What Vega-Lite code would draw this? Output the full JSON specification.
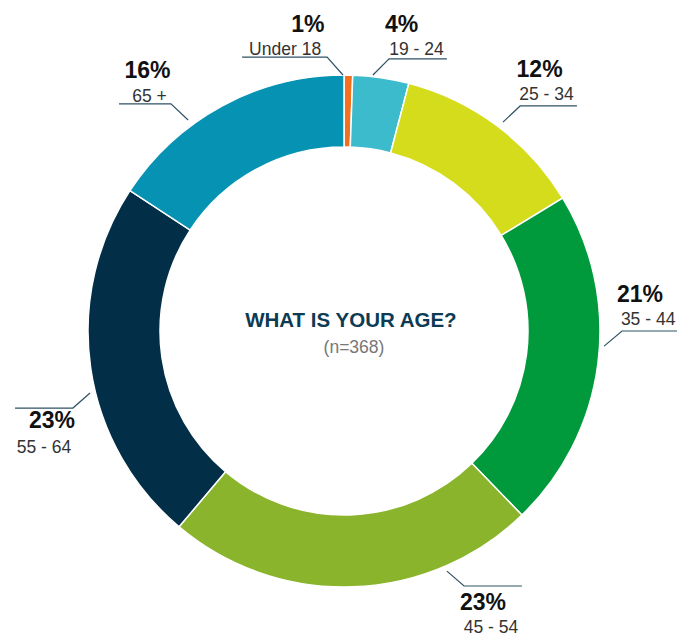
{
  "$schema": "https://vega.github.io/schema/vega-lite/v6.json",
  "width": 666,
  "height": 612,
  "autosize": {"type": "none"},
  "padding": {"left": 11, "top": 25, "right": 0, "bottom": 0},
  "background": "white",
  "config": {"view": {"stroke": null}},
  "datasets": {
    "ages": [
      {"o": 1, "seg": "Under 18", "n": 2},
      {"o": 2, "seg": "19 - 24", "n": 13},
      {"o": 3, "seg": "25 - 34", "n": 45},
      {"o": 4, "seg": "35 - 44", "n": 79},
      {"o": 5, "seg": "45 - 54", "n": 86},
      {"o": 6, "seg": "55 - 64", "n": 85},
      {"o": 7, "seg": "65 +", "n": 58}
    ],
    "leaders": [
      {"seg": "Under 18", "i": 1, "x": -0.004, "y": 1.0},
      {"seg": "Under 18", "i": 2, "x": -0.066, "y": 1.07},
      {"seg": "Under 18", "i": 3, "x": -0.398, "y": 1.07},
      {"seg": "19 - 24", "i": 1, "x": 0.113, "y": 1.0},
      {"seg": "19 - 24", "i": 2, "x": 0.176, "y": 1.063},
      {"seg": "19 - 24", "i": 3, "x": 0.402, "y": 1.063},
      {"seg": "25 - 34", "i": 1, "x": 0.621, "y": 0.816},
      {"seg": "25 - 34", "i": 2, "x": 0.688, "y": 0.879},
      {"seg": "25 - 34", "i": 3, "x": 0.91, "y": 0.879},
      {"seg": "35 - 44", "i": 1, "x": 1.016, "y": -0.059},
      {"seg": "35 - 44", "i": 2, "x": 1.086, "y": 0.0},
      {"seg": "35 - 44", "i": 3, "x": 1.301, "y": 0.0},
      {"seg": "45 - 54", "i": 1, "x": 0.402, "y": -0.938},
      {"seg": "45 - 54", "i": 2, "x": 0.469, "y": -0.996},
      {"seg": "45 - 54", "i": 3, "x": 0.695, "y": -0.996},
      {"seg": "55 - 64", "i": 1, "x": -0.992, "y": -0.242},
      {"seg": "55 - 64", "i": 2, "x": -1.059, "y": -0.301},
      {"seg": "55 - 64", "i": 3, "x": -1.285, "y": -0.301},
      {"seg": "65 +", "i": 1, "x": -0.609, "y": 0.824},
      {"seg": "65 +", "i": 2, "x": -0.676, "y": 0.887},
      {"seg": "65 +", "i": 3, "x": -0.879, "y": 0.887}
    ],
    "labels": [
      {"seg": "Under 18", "pct": "1%", "px": -0.141, "py": 1.168, "cx": -0.23, "cy": 1.078},
      {"seg": "19 - 24", "pct": "4%", "px": 0.225, "py": 1.168, "cx": 0.283, "cy": 1.078},
      {"seg": "25 - 34", "pct": "12%", "px": 0.764, "py": 0.992, "cx": 0.791, "cy": 0.902},
      {"seg": "35 - 44", "pct": "21%", "px": 1.156, "py": 0.113, "cx": 1.188, "cy": 0.023},
      {"seg": "45 - 54", "pct": "23%", "px": 0.543, "py": -1.09, "cx": 0.574, "cy": -1.18},
      {"seg": "55 - 64", "pct": "23%", "px": -1.141, "py": -0.379, "cx": -1.172, "cy": -0.477},
      {"seg": "65 +", "pct": "16%", "px": -0.768, "py": 0.988, "cx": -0.76, "cy": 0.895}
    ],
    "center": [
      {"t": "WHAT IS YOUR AGE?", "x": 0.027, "y": 0.016, "sub": "(n=368)", "sx": 0.039, "sy": -0.086}
    ]
  },
  "layer": [
    {
      "data": {"name": "ages"},
      "mark": {"type": "arc", "outerRadius": 256, "innerRadius": 184, "stroke": "white", "strokeWidth": 1.5},
      "encoding": {
        "theta": {"field": "n", "type": "quantitative", "stack": true},
        "order": {"field": "o", "type": "quantitative"},
        "color": {
          "field": "seg", "type": "nominal", "legend": null,
          "scale": {
            "domain": ["Under 18", "19 - 24", "25 - 34", "35 - 44", "45 - 54", "55 - 64", "65 +"],
            "range": ["#F37021", "#3BBBCB", "#D4DC1C", "#009A3D", "#8AB42B", "#022F47", "#0693B3"]
          }
        }
      }
    },
    {
      "data": {"name": "leaders"},
      "mark": {"type": "line", "color": "#2F5266", "strokeWidth": 1.2},
      "encoding": {
        "x": {"field": "x", "type": "quantitative", "axis": null, "scale": {"domain": [-1.3008, 1.3008], "nice": false, "zero": false}},
        "y": {"field": "y", "type": "quantitative", "axis": null, "scale": {"domain": [-1.1953, 1.1953], "nice": false, "zero": false}},
        "detail": {"field": "seg"},
        "order": {"field": "i", "type": "quantitative"}
      }
    },
    {
      "data": {"name": "labels"},
      "mark": {"type": "text", "font": "Liberation Sans", "fontWeight": "bold", "fontSize": 23, "color": "#111111", "align": "center", "baseline": "alphabetic"},
      "encoding": {
        "x": {"field": "px", "type": "quantitative"},
        "y": {"field": "py", "type": "quantitative"},
        "text": {"field": "pct"}
      }
    },
    {
      "data": {"name": "labels"},
      "mark": {"type": "text", "font": "Liberation Sans", "fontSize": 17.5, "color": "#333333", "align": "center", "baseline": "alphabetic"},
      "encoding": {
        "x": {"field": "cx", "type": "quantitative"},
        "y": {"field": "cy", "type": "quantitative"},
        "text": {"field": "seg"}
      }
    },
    {
      "data": {"name": "center"},
      "mark": {"type": "text", "font": "Liberation Sans", "fontWeight": "bold", "fontSize": 20.5, "color": "#0D3B54", "align": "center", "baseline": "alphabetic"},
      "encoding": {
        "x": {"field": "x", "type": "quantitative"},
        "y": {"field": "y", "type": "quantitative"},
        "text": {"field": "t"}
      }
    },
    {
      "data": {"name": "center"},
      "mark": {"type": "text", "font": "Liberation Sans", "fontSize": 17.5, "color": "#777777", "align": "center", "baseline": "alphabetic"},
      "encoding": {
        "x": {"field": "sx", "type": "quantitative"},
        "y": {"field": "sy", "type": "quantitative"},
        "text": {"field": "sub"}
      }
    }
  ]
}
